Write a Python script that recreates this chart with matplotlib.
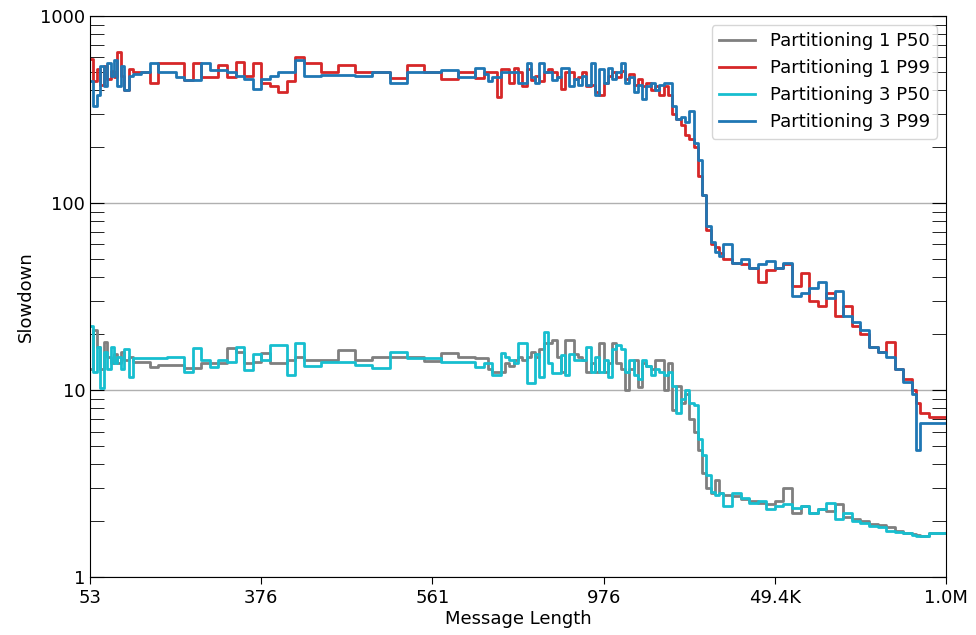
import matplotlib
matplotlib.use('Agg')
import matplotlib.pyplot as plt
from matplotlib.ticker import FixedLocator, NullFormatter

# Percentile of message length (0-100) where each step begins
pct = [
    0, 0.4, 0.8, 1.2, 1.6, 2.0, 2.4, 2.8, 3.2, 3.6, 4.0, 4.5,
    5, 6, 7, 8, 9, 10, 11, 12, 13, 14, 15, 16, 17, 18, 19, 20, 21, 22, 23, 24,
    25, 27, 29, 31, 33, 35, 37, 39, 41, 43, 45,
    46, 46.5, 47, 47.5, 48, 48.5, 49, 49.5, 50, 50.5, 51, 51.5, 52, 52.5, 53, 53.5,
    54, 54.5, 55, 55.5, 56, 56.5, 57, 57.5, 58, 58.5, 59, 59.5, 60, 60.5, 61, 61.5,
    62, 62.5, 63, 63.5, 64, 64.5, 65, 65.5, 66, 66.5, 67, 67.5, 68, 68.5, 69, 69.5,
    70, 70.5, 71,
    71.5, 72, 72.5, 73, 73.5, 74, 75, 76, 77, 78, 79, 80, 81, 82, 83, 84, 85, 86,
    87, 88, 89, 90, 91, 92, 93, 94, 95, 96, 96.5, 97, 98, 99,
]

p1_p50 = [
    13, 21, 17, 13, 18, 15, 14, 15.5, 14, 16, 14.5, 15,
    14.1, 14.1, 13.3, 13.6, 13.6, 13.6, 13.1, 13.1, 14, 14, 14, 16.8, 16, 14, 14.2, 15.7, 14, 14, 14.5, 15,
    14.5, 14.5, 16.3, 14.5, 15, 15, 15, 14.3, 15.7, 15, 14.8,
    14.8, 13, 12.5, 12.5, 12.5, 14, 13.5, 14.5, 15, 14.5, 15, 16, 15, 16.5, 17.9, 17.9,
    18.5, 15, 12.5, 18.5, 18.5, 15.5, 15, 14.5, 12.5, 14, 12.5, 17.9, 12.5, 14, 17.9, 14,
    13, 10, 13, 14.5, 10.4, 14, 13.5, 13, 14.5, 14.5, 10, 14, 7.8, 10.5, 8.5, 9.5,
    7, 6, 4.8,
    3.6, 3.0, 2.8, 3.3, 2.8, 2.75, 2.7, 2.6, 2.55, 2.5, 2.45, 2.55, 3.0, 2.2, 2.4, 2.2, 2.3, 2.25,
    2.45, 2.1, 2.05, 2.0, 1.93, 1.9, 1.85, 1.76, 1.73, 1.7, 1.68, 1.66, 1.72, 1.72,
]

p1_p99 = [
    590, 450, 520, 430, 540, 460, 510, 470, 640, 480, 400, 520,
    500, 500, 440, 560, 560, 560, 455, 560, 470, 470, 545, 470, 570, 480, 560, 440, 420, 390, 450, 600,
    560, 500, 545, 500, 500, 465, 545, 500, 460, 500, 465,
    500, 500, 500, 370, 520, 520, 440, 530, 500, 420, 520, 455, 480, 450, 500, 520,
    500, 470, 405, 500, 500, 460, 470, 500, 420, 430, 390, 380, 440, 480, 500, 470,
    510, 460, 490, 430, 460, 420, 440, 400, 420, 380, 420, 380, 300, 280, 260, 230,
    220, 200, 140,
    110, 72, 60, 58, 54, 50, 48, 47, 45, 38, 44, 45, 47, 36, 42, 30, 28, 33,
    25, 28, 22, 20, 17, 16, 18, 13, 11.5, 10, 8.5, 7.5, 7.2, 7.2,
]

p3_p50 = [
    22, 12.5, 17, 10.2, 16, 13, 17, 14, 15, 13, 16.5, 11.7,
    14.8, 14.8, 14.8, 14.8, 15, 15, 12.5, 16.8, 14.5, 13.3, 14.5, 14.2, 17, 12.8, 15.5, 14.5, 17.4, 17.4, 12, 17.9,
    13.5, 14.1, 14.1, 13.6, 13.1, 16, 14.8, 14.8, 14.1, 14.1, 13.3,
    14, 14, 12, 12, 15.7, 15, 14.5, 14, 17.9, 17.9, 10.9, 10.9, 15.5, 11.7, 20.5, 14,
    12.3, 12.3, 15.4, 12, 15.5, 14.5, 14.5, 14.5, 17, 12.5, 15, 12.5, 14.5, 11.8, 16.5, 17.5,
    16.5, 12.5, 14.5, 12, 11.5, 14.5, 13.5, 12, 13, 12.5, 12, 12.5, 10.5, 7.5, 9, 10,
    8.5, 8.3, 5.5,
    4.5, 3.5, 2.85, 2.75, 2.8, 2.4, 2.8, 2.65, 2.5, 2.55, 2.3, 2.4, 2.45, 2.35, 2.4, 2.2, 2.3, 2.5,
    2.05, 2.2, 2.0, 1.95, 1.88, 1.85, 1.77, 1.74, 1.72, 1.68, 1.66, 1.66, 1.72, 1.72,
]

p3_p99 = [
    450, 330, 380, 540, 420, 560, 480, 580, 420, 540, 400, 480,
    490, 500, 560, 500, 500, 470, 455, 455, 560, 515, 515, 500, 480, 460, 405, 460, 480, 500, 500, 580,
    480, 485, 485, 480, 500, 440, 500, 500, 515, 470, 525,
    490, 450, 470, 470, 500, 500, 500, 500, 440, 440, 560, 470, 440, 560, 500, 500,
    455, 470, 530, 530, 420, 460, 430, 480, 430, 560, 380, 520, 440, 530, 460, 500,
    560, 440, 470, 390, 430, 360, 420, 440, 400, 430, 440, 440, 330, 280, 290, 270,
    310, 210, 170,
    110, 75, 62, 55, 52, 60, 48, 50, 45, 47, 49, 45, 48, 32, 33, 35, 38, 31,
    34, 25, 23, 21, 17, 16, 15, 13, 11, 9.5, 4.8, 6.7, 6.7, 6.7,
]

series = [
    ('Partitioning 1 P50', p1_p50, 'tab:gray'),
    ('Partitioning 1 P99', p1_p99, 'tab:red'),
    ('Partitioning 3 P50', p3_p50, 'tab:cyan'),
    ('Partitioning 3 P99', p3_p99, 'tab:blue'),
]

x_tick_pos = [0, 20, 40, 60, 80, 100]
x_tick_labels = ['53', '376', '561', '976', '49.4K', '1.0M']

plt.rcParams['font.size'] = 13

fig = plt.figure(figsize=(9.76, 6.35), dpi=100)
ax = fig.add_axes([0.0922, 0.0913, 0.8771, 0.8835])

xs = pct + [100]
for label, vals, color in series:
    ax.step(xs, vals + [vals[-1]], where='post', color=color, linewidth=2, label=label)

ax.set_yscale('log')
ax.set_ylim(1, 1000)
ax.set_xlim(0, 100)
ax.set_yticks([1, 10, 100, 1000])
ax.set_yticklabels(['1', '10', '100', '1000'])
ax.yaxis.set_minor_formatter(NullFormatter())
ax.set_xticks(x_tick_pos)
ax.set_xticklabels(x_tick_labels)
ax.xaxis.set_minor_locator(FixedLocator([]))

ax.tick_params(axis='y', which='both', direction='in', length=10, left=True, right=True)
ax.tick_params(axis='x', which='major', direction='out', length=5)

ax.grid(axis='y', which='major', color='#b0b0b0', linewidth=1)
ax.set_axisbelow(True)

ax.set_xlabel('Message Length', labelpad=2)
ax.set_ylabel('Slowdown')
ax.legend(loc='upper right')

fig.savefig('out.png', dpi=100)
